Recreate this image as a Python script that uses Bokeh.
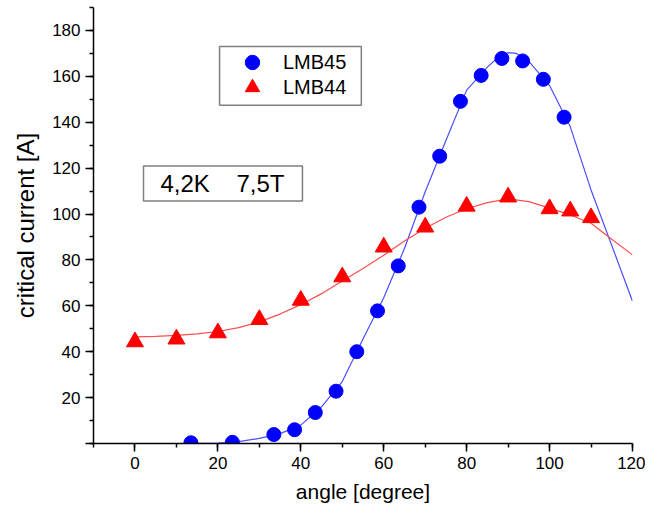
from bokeh.plotting import figure
from bokeh.models import (Range1d, SingleIntervalTicker, Legend, LegendItem,
                          BoxAnnotation, Label)
from bokeh.embed import file_html
from bokeh.resources import INLINE

# ---- data ----
lmb45_angle = [13.5, 23.5, 33.5, 38.5, 43.5, 48.5, 53.5, 58.5, 63.5, 68.5,
               73.5, 78.5, 83.5, 88.5, 93.5, 98.5, 103.5]
lmb45_current = [0.3, 0.5, 3.9, 6.0, 13.5, 22.8, 40.0, 57.8, 77.4, 103.0,
                 125.2, 149.1, 160.4, 167.8, 166.7, 158.7, 142.2]

lmb44_angle = [0, 10, 20, 30, 40, 50, 60, 70, 80, 90, 100, 105, 110]
lmb44_current = [44.3, 45.5, 48.2, 54.0, 62.4, 72.6, 85.6, 94.3, 103.4,
                 107.4, 102.3, 101.3, 98.4]

fit45_angle = [13.5, 20, 25, 30, 35, 40, 45, 50, 55, 60, 65, 70, 75, 80, 85,
               88, 90, 92, 95, 100, 105, 110, 115, 120]
fit45_current = [0.0, 0.2, 0.8, 2.2, 4.3, 8.0, 16.0, 27.0, 45.5, 63.5, 85.0,
                 109.7, 132.0, 154.0, 164.0, 169.0, 170.3, 170.0, 166.5,
                 156.0, 138.0, 110.5, 86.3, 62.0]

fit44_angle = [0, 5, 10, 15, 20, 25, 30, 35, 40, 45, 50, 55, 60, 65, 70, 75,
               80, 85, 90, 95, 100, 105, 110, 115, 120]
fit44_current = [46.5, 46.7, 47.1, 47.8, 48.8, 50.5, 53.0, 56.4, 60.5, 65.3,
                 70.8, 76.3, 82.0, 88.2, 93.8, 98.6, 102.3, 105.0, 106.6,
                 105.4, 102.6, 99.6, 96.0, 89.0, 82.2]

series_labels = ["LMB45", "LMB44"]
condition_text = "4,2K \u00a0\u00a0 7,5T"
x_title = "angle [degree]"
y_title = "critical current [A]"

FONT = "Liberation Sans"

p = figure(width=645, height=505, output_backend="svg", toolbar_location=None,
           x_range=Range1d(-10, 120), y_range=Range1d(0, 190),
           min_border_left=93, min_border_right=13, min_border_top=7,
           min_border_bottom=61)
p.outline_line_color = None
p.xgrid.visible = False
p.ygrid.visible = False
p.background_fill_color = "white"
p.border_fill_color = "white"

# fitted curves
p.line(fit45_angle, fit45_current, line_color="#4d4dff", line_width=1.2)
p.line(fit44_angle, fit44_current, line_color="#ff4d4d", line_width=1.2)

# measured points
r45 = p.scatter(lmb45_angle, lmb45_current, marker="circle", size=14,
                fill_color="#0000ff", line_color="#0000ff")
r44 = p.scatter(lmb44_angle, lmb44_current, marker="triangle", size=17,
                fill_color="#ff0000", line_color="#ff0000")

# axes
for ax in (p.xaxis[0], p.yaxis[0]):
    ax.ticker = SingleIntervalTicker(interval=20, num_minor_ticks=2)
    ax.axis_line_width = 1.5
    ax.axis_line_color = "black"
    ax.major_tick_line_width = 1.5
    ax.minor_tick_line_width = 1.5
    ax.major_tick_in = 0
    ax.major_tick_out = 8
    ax.minor_tick_in = 0
    ax.minor_tick_out = 4
    ax.major_label_text_font = FONT
    ax.major_label_text_font_size = "17px"
    ax.major_label_text_color = "black"
    ax.axis_label_text_font = FONT
    ax.axis_label_text_font_style = "normal"
    ax.axis_label_text_color = "black"

p.xaxis.axis_label = x_title
p.xaxis.axis_label_text_font_size = "21px"
p.xaxis.axis_label_standoff = 8
p.yaxis.axis_label = y_title
p.yaxis.axis_label_text_font_size = "24px"
p.yaxis.axis_label_standoff = 10
p.yaxis.major_label_overrides = {0: ""}

# legend box + one legend per row (exact row placement)
p.add_layout(BoxAnnotation(left=20.4, right=54.6, bottom=147.4, top=173.0,
                           fill_alpha=0, line_color="#808080", line_alpha=1,
                           line_width=1.5))
for item, r, loc_y in ((series_labels[0], r45, 363), (series_labels[1], r44, 338)):
    leg = Legend(items=[LegendItem(label=item, renderers=[r])],
                 location=(128, loc_y), padding=0, margin=0, spacing=0,
                 glyph_width=62, glyph_height=36, label_standoff=0,
                 label_height=20, label_text_font=FONT,
                 label_text_font_size="20px", label_text_color="black",
                 border_line_color=None, background_fill_alpha=0)
    p.add_layout(leg)

# condition box
p.add_layout(BoxAnnotation(left=2.06, right=40.4, bottom=105.7, top=120.9,
                           fill_alpha=0, line_color="#808080", line_alpha=1,
                           line_width=1.5))
p.add_layout(Label(x=21.1, y=113.3, text=condition_text, text_align="center",
                   text_baseline="middle", text_font=FONT,
                   text_font_size="24px", text_color="black"))

open("out.html", "w").write(file_html(p, INLINE))
